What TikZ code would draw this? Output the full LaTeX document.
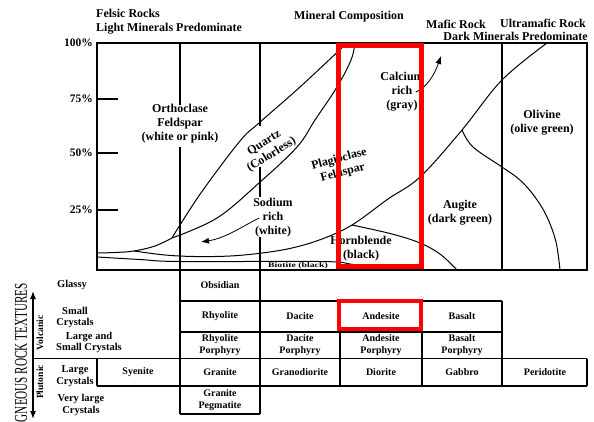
\documentclass[tikz,border=0pt]{standalone}
\usepackage{graphicx}
\usepackage{fontspec}
\setmainfont{Liberation Serif}
\usepackage{tikz}
\usetikzlibrary{arrows.meta}

\tikzset{
    lbl/.style={font=\fontsize{12}{14}\selectfont\bfseries, align=center, inner sep=0pt},
    cell/.style={font=\fontsize{10}{12}\selectfont\bfseries, align=center, inner sep=0pt},
    side/.style={font=\fontsize{10.5}{11.5}\selectfont\bfseries, align=center, inner sep=0pt},
    pct/.style={font=\fontsize{11.5}{13}\selectfont\bfseries, anchor=east, inner sep=0pt},
    chartline/.style={line width=1.4pt},
    tabline/.style={line width=1.3pt},
    bound/.style={line width=1pt},
    hilite/.style={draw=red, line width=4.5pt},
    tip/.style={-{Latex[length=8pt, width=6pt]}},
}

\begin{document}
\begin{tikzpicture}[x=1pt,y=-1pt]
    \useasboundingbox (0,0) rectangle (594,421);
    \clip (0,0) rectangle (594,421);

    % headings
    \node[lbl, align=left, anchor=west] (felsic) at (96,22) {Felsic Rocks\\Light Minerals Predominate};
    \node[lbl] (comp) at (349,17) {Mineral Composition};
    \node[lbl] (mafic) at (456,24) {Mafic Rock};
    \node[lbl, anchor=west] (ultra) at (500,23) {Ultramafic Rock};
    \node[lbl, anchor=east] (dark) at (588,36) {Dark Minerals Predominate};

    % chart frame and percent scale
    \draw[chartline] (97,43) rectangle (587,270);
    \foreach \y/\p in {43/100, 99/75, 153/50, 210/25}
        \node[pct] (p\p) at (93,\y) {\p\%};
    \foreach \y in {99, 153, 210}
        \draw[chartline] (97,\y) -- (118,\y);

    % vertical dividers, running on into the table
    \draw[tabline] (180,43) -- (180,105);
    \draw[tabline] (180,147) -- (180,414);
    \draw[tabline] (260,43) -- (260,126);
    \draw[tabline] (260,167) -- (260,197);
    \draw[tabline] (260,237) -- (260,414);
    \draw[tabline] (502,43) -- (502,270);

    % mineral boundaries
    \draw[bound] plot[smooth, tension=0.6] coordinates {(97,253) (115,252.5) (134,251) (155,246) (172,238)};
    \draw[bound] plot[smooth, tension=0.6] coordinates {(134,251) (165,255) (195,256.5) (230,256) (262,253)
        (292,248) (322,239) (352,225) (388,199) (420,177) (462,130) (502,80) (547,43)};
    \draw[bound] plot[smooth, tension=0.6] coordinates {(172,238) (180,225) (203,190) (240,141) (259,123) (300,87) (347,43)};
    \draw[bound] plot[smooth, tension=0.6] coordinates {(172,238) (217,218) (259,183) (297,147) (315,120) (337,87) (351,60) (355,43)};
    \draw[bound] plot[smooth, tension=0.6] coordinates {(352,225) (392,234) (420,243) (440,254) (457,270)};
    \draw[bound] plot[smooth, tension=0.6] coordinates {(462,130) (473,147) (502,167) (520,180) (535,197) (547,217) (556,242) (560,270)};
    \draw[bound] plot[smooth, tension=0.6] coordinates {(97,257) (140,259.5) (180,261.5) (320,261.5) (350,264) (375,270)};

    % mineral names
    \node[lbl] (ortho) at (180,124) {Orthoclase\\Feldspar\\(white or pink)};
    \node[lbl, rotate=32] (quartz) at (268,149) {Quartz\\(Colorless)};
    \node[lbl, rotate=15] (plag) at (341,166) {Plagioclase\\Feldspar};
    \node[lbl] (calcium) at (402,92) {Calcium\\rich\\(gray)};
    \node[lbl] (sodium) at (273,218) {Sodium\\rich\\(white)};
    \node[lbl] (hornbl) at (361,249) {Hornblende\\(black)};
    \node[lbl] (augite) at (460,213) {Augite\\(dark green)};
    \node[lbl] (olivine) at (542,123) {Olivine\\(olive green)};
    \node[font=\fontsize{7}{7}\selectfont\bfseries, inner sep=0pt] (biotite) at (298,266) {\scalebox{1.4}[1]{Biotite (black)}};

    \coordinate (na-tip) at (201,242);
    \coordinate (ca-tip) at (441,56);
    \draw[tip, thick] ([xshift=6pt]sodium.west) .. controls (243,226) and (226,238) .. (na-tip);
    \draw[tip, thick] ([xshift=-8pt]calcium.east) .. controls (426,88) and (434,76) .. (ca-tip);

    % texture table
    \draw[tabline] (180,301) -- (502,301);
    \draw[tabline] (180,332) -- (502,332);
    \draw[tabline] (33,358.5) -- (587,358.5);
    \draw[tabline] (97,386) -- (587,386);
    \draw[tabline] (180,414) -- (260,414);
    \draw[tabline] (97,358.5) -- (97,386);
    \draw[tabline] (340,301) -- (340,386);
    \draw[tabline] (422,301) -- (422,386);
    \draw[tabline] (502,301) -- (502,386);
    \draw[tabline] (587,358.5) -- (587,386);

    \node[cell] (obsidian) at (220,285.5) {Obsidian};
    \foreach \x/\t [count=\i] in {220/Rhyolite, 300/Dacite, 381/Andesite, 462/Basalt}
        \node[cell] (fine\i) at (\x,316.5) {\t};
    \node[cell] (rhyp) at (220,345) {Rhyolite\\Porphyry};
    \node[cell] (dacp) at (300,345) {Dacite\\Porphyry};
    \node[cell] (andp) at (381,345) {Andesite\\Porphyry};
    \node[cell] (basp) at (462,345) {Basalt\\Porphyry};
    \foreach \x/\t [count=\i] in {138/Syenite, 220/Granite, 300/Granodiorite, 381/Diorite, 462/Gabbro, 545/Peridotite}
        \node[cell] (coarse\i) at (\x,372) {\t};
    \node[cell] (pegm) at (220,400.5) {Granite\\Pegmatite};

    % texture names on the left
    \node[side] (glassy) at (72,285) {Glassy};
    \node[side] (small) at (75,317.5) {Small\\Crystals};
    \node[side] (mixed) at (89,342.5) {Large and\\Small Crystals};
    \node[side] (large) at (75,376) {Large\\Crystals};
    \node[side] (vlarge) at (81,405) {Very large\\Crystals};

    \node[font=\fontsize{9.5}{10}\selectfont\bfseries, rotate=90, inner sep=0pt] (volc) at (40,333) {Volcanic};
    \node[font=\fontsize{9.5}{10}\selectfont\bfseries, rotate=90, inner sep=0pt] (pluto) at (40,382) {Plutonic};
    \node[font=\fontsize{18}{18}\selectfont, rotate=90, anchor=east, inner sep=0pt] (texture) at (21,283)
        {\scalebox{0.62}[1]{IGNEOUS ROCK TEXTURES}};
    \coordinate (tex-top) at (33,291);
    \coordinate (tex-bot) at (33,419);
    \draw[{Latex[length=8pt, width=6pt]}-{Latex[length=8pt, width=6pt]}, line width=1.3pt] (tex-top) -- (tex-bot);

    % highlight boxes
    \draw[hilite] (338.5,45.5) rectangle (421.5,266.5);
    \draw[hilite] (339,301) rectangle (421,329);

\end{tikzpicture}
\end{document}
